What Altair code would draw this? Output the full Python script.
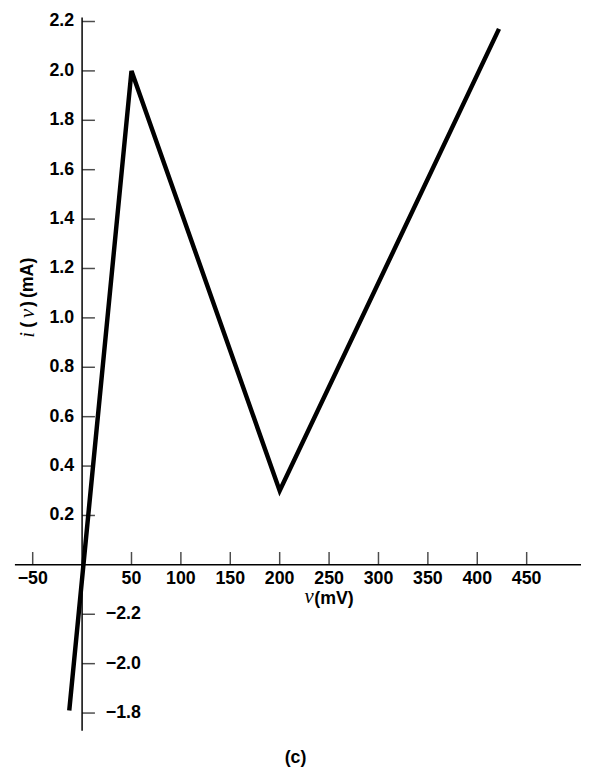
import altair as alt
import pandas as pd

# I-V characteristic (piecewise linear)
v_mV = [-13, 50, 200, 422]
i_mA = [-0.59, 2.0, 0.3, 2.17]

# x axis ticks
x_ticks = [-50, 50, 100, 150, 200, 250, 300, 350, 400, 450]
x_tick_labels = ["\u221250", "50", "100", "150", "200", "250", "300", "350", "400", "450"]

# y axis ticks (positive side, labels left of axis)
y_pos_ticks = [0.2, 0.4, 0.6, 0.8, 1.0, 1.2, 1.4, 1.6, 1.8, 2.0, 2.2]
y_pos_labels = ["0.2", "0.4", "0.6", "0.8", "1.0", "1.2", "1.4", "1.6", "1.8", "2.0", "2.2"]

# y axis ticks (negative side, labels right of axis, as printed)
y_neg_ticks = [-0.2, -0.4, -0.6]
y_neg_labels = ["\u22122.2", "\u22122.0", "\u22121.8"]

# axis line extents (data units)
x_axis_extent = [-68, 505]
y_axis_extent = [-0.672, 2.216]

W, H = 580, 764
xs = alt.Scale(domain=[-75, 505], nice=False, zero=False)
ys = alt.Scale(domain=[-0.82, 2.236], nice=False, zero=False)

FONT = "Liberation Sans"

curve = pd.DataFrame({"v": v_mV, "i": i_mA, "o": range(len(v_mV))})
xt = pd.DataFrame({"v": x_ticks, "lab": x_tick_labels, "i": [0] * len(x_ticks)})
ytp = pd.DataFrame({"i": y_pos_ticks, "lab": y_pos_labels, "v": [0] * len(y_pos_ticks)})
ytn = pd.DataFrame({"i": y_neg_ticks, "lab": y_neg_labels, "v": [0] * len(y_neg_ticks)})
xax = pd.DataFrame({"v": [x_axis_extent[0]], "v2": [x_axis_extent[1]], "i": [0]})
yax = pd.DataFrame({"i": [y_axis_extent[0]], "i2": [y_axis_extent[1]], "v": [0]})

X = lambda f: alt.X(f, scale=xs, axis=None)
Y = lambda f: alt.Y(f, scale=ys, axis=None)

x_axis_line = alt.Chart(xax).mark_rule(color="black", strokeWidth=1.5).encode(
    x=X("v:Q"), x2="v2:Q", y=Y("i:Q"))
y_axis_line = alt.Chart(yax).mark_rule(color="black", strokeWidth=1.5).encode(
    y=Y("i:Q"), y2="i2:Q", x=X("v:Q"))

x_tick_marks = alt.Chart(xt).mark_tick(
    orient="vertical", size=13, thickness=1.5, color="black", yOffset=-6.5
).encode(x=X("v:Q"), y=Y("i:Q"))
x_tick_text = alt.Chart(xt).mark_text(
    font=FONT, fontSize=18, fontWeight="bold", baseline="middle", align="center", dy=14
).encode(x=X("v:Q"), y=Y("i:Q"), text="lab:N")

yp_tick_marks = alt.Chart(ytp).mark_tick(
    orient="horizontal", size=13, thickness=1.5, color="black", xOffset=6.5
).encode(x=X("v:Q"), y=Y("i:Q"))
yp_tick_text = alt.Chart(ytp).mark_text(
    font=FONT, fontSize=18, fontWeight="bold", baseline="middle", align="right", dx=-8
).encode(x=X("v:Q"), y=Y("i:Q"), text="lab:N")

yn_tick_marks = alt.Chart(ytn).mark_tick(
    orient="horizontal", size=13, thickness=1.5, color="black", xOffset=6.5
).encode(x=X("v:Q"), y=Y("i:Q"))
yn_tick_text = alt.Chart(ytn).mark_text(
    font=FONT, fontSize=18, fontWeight="bold", baseline="middle", align="left", dx=24
).encode(x=X("v:Q"), y=Y("i:Q"), text="lab:N")

line = alt.Chart(curve).mark_line(
    color="black", strokeWidth=4.5, strokeJoin="miter", strokeCap="butt"
).encode(x=X("v:Q"), y=Y("i:Q"), order="o:Q")

# x axis title: italic v + (mV)
xt_v = alt.Chart(pd.DataFrame({"t": ["v"]})).mark_text(
    font="Liberation Serif", fontStyle="italic", fontSize=21, align="left", baseline="middle"
).encode(x=alt.value(300), y=alt.value(592), text="t:N")
xt_rest = alt.Chart(pd.DataFrame({"t": ["(mV)"]})).mark_text(
    font=FONT, fontSize=18, fontWeight="bold", align="left", baseline="middle"
).encode(x=alt.value(310), y=alt.value(594), text="t:N")

# y axis title: i(v) (mA), rotated
ytitle_parts = [("i", True, 329), ("(", False, 319), ("v", True, 309), (")", False, 298), ("(mA)", False, 289)]
ytitle_layers = []
for t, ital, ypix in ytitle_parts:
    if ital:
        mk = alt.Chart(pd.DataFrame({"t": [t]})).mark_text(
            font="Liberation Serif", fontStyle="italic", fontSize=21, angle=270,
            align="left", baseline="middle")
    else:
        mk = alt.Chart(pd.DataFrame({"t": [t]})).mark_text(
            font=FONT, fontSize=18, fontWeight="bold", angle=270,
            align="left", baseline="middle")
    ytitle_layers.append(mk.encode(x=alt.value(20), y=alt.value(ypix), text="t:N"))

caption = alt.Chart(pd.DataFrame({"t": ["(c)"]})).mark_text(
    font=FONT, fontSize=18, fontWeight="bold", align="center", baseline="middle"
).encode(x=alt.value(291), y=alt.value(755), text="t:N")

chart = alt.layer(
    x_axis_line, y_axis_line, x_tick_marks, x_tick_text,
    yp_tick_marks, yp_tick_text, yn_tick_marks, yn_tick_text,
    line, xt_v, xt_rest, *ytitle_layers, caption
).properties(
    width=W, height=H, autosize=alt.AutoSizeParams(type="none"), padding=0
).configure_view(stroke=None)

chart.save("out.html", embed_options={"renderer": "svg", "actions": False})
